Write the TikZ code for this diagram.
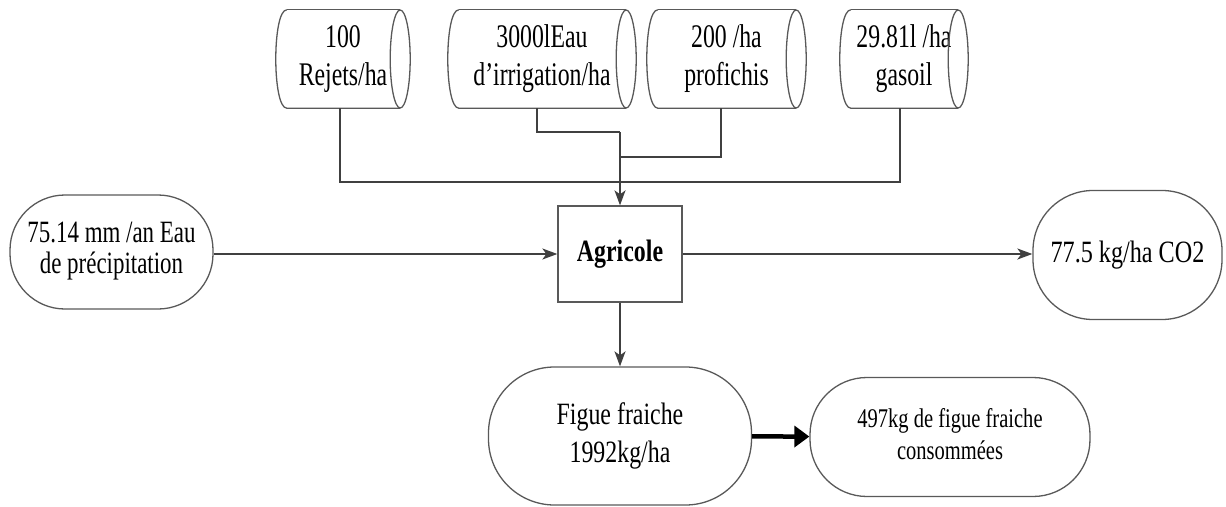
\documentclass[tikz,border=0pt]{standalone}
\usepackage{fontspec}
\setmainfont{Liberation Serif}
\usepackage{graphicx}
\usetikzlibrary{arrows.meta}

% narrow, centred multi-line label
\newcommand{\narrowlabel}[2]{\scalebox{#1}[1]{\begin{tabular}{@{}c@{}}#2\end{tabular}}}

% horizontal cylinder drawn around a (borderless) node
\newcommand{\cylinder}[1]{%
  \draw[outline] ([xshift=11pt]#1.north west)
    .. controls ([xshift=-3.7pt]#1.north west) and ([xshift=-3.7pt]#1.south west) .. ([xshift=11pt]#1.south west)
    -- ([xshift=-10pt]#1.south east);
  \draw[outline] ([xshift=11pt]#1.north west) -- ([xshift=-10pt]#1.north east);
  \draw[outline] ([xshift=-10pt]#1.east) ellipse [x radius=10pt, y radius=49pt];
}

\begin{document}
\begin{tikzpicture}[x=1pt,y=-1pt,
  outline/.style={draw=black!65, line width=1.3pt},
  supply/.style={minimum height=98pt, inner sep=0pt, font=\fontsize{33}{38}\selectfont},
  term/.style={outline, inner sep=0pt},
  process/.style={outline, inner sep=0pt, minimum width=124pt, minimum height=96pt,
    font=\fontsize{31}{36}\selectfont\bfseries},
  conn/.style={draw=black!75, line width=1.7pt},
  arr/.style={conn, -{Stealth[length=15pt,width=11pt,inset=4pt]}},
  bigarr/.style={draw=black, line width=4.5pt, -{Triangle[length=15pt,width=21pt]}}]

\useasboundingbox (0,0) rectangle (1226,506);

% inputs
\node[supply, minimum width=134pt] (b1) at (343,59) {\narrowlabel{0.72}{100\\Rejets/ha}};
\node[supply, minimum width=188pt] (b2) at (542,59) {\narrowlabel{0.72}{3000lEau\\d’irrigation/ha}};
\node[supply, minimum width=159pt] (b3) at (726.5,59) {\narrowlabel{0.72}{200 /ha\\profichis}};
\node[supply, minimum width=128pt] (b4) at (904,59) {\narrowlabel{0.72}{29.81l /ha\\gasoil}};
\cylinder{b1}
\cylinder{b2}
\cylinder{b3}
\cylinder{b4}

% central process
\node[process] (ag) at (620,254) {\scalebox{0.77}[1]{Agricole}};

% terminals
\node[term, rounded corners=55pt, minimum width=203pt, minimum height=114pt,
  font=\fontsize{31}{29}\selectfont] (rain) at (111.5,252)
  {\narrowlabel{0.74}{75.14 mm /an Eau\\de précipitation}};
\node[term, rounded corners=60pt, minimum width=189pt, minimum height=129pt,
  font=\fontsize{31}{36}\selectfont] (co2) at (1127.5,255)
  {\narrowlabel{0.78}{77.5 kg/ha CO2}};
\node[term, rounded corners=66pt, minimum width=263pt, minimum height=138pt,
  font=\fontsize{31}{38}\selectfont] (fig) at (620,436)
  {\narrowlabel{0.77}{Figue fraiche\\1992kg/ha}};
\node[term, rounded corners=57pt, minimum width=280pt, minimum height=119pt,
  font=\fontsize{27}{32}\selectfont] (eat) at (950,437)
  {\narrowlabel{0.76}{497kg de figue fraiche\\consommées}};

% collector lines
\coordinate (d1) at ([xshift=-3pt]b1.south);
\coordinate (d2) at ([xshift=-5pt]b2.south);
\coordinate (d3) at ([xshift=-5.5pt]b3.south);
\coordinate (d4) at ([xshift=-4pt]b4.south);
\coordinate (j1) at (620,132);
\coordinate (j2) at (620,157);

\draw[conn] (d2) |- (j1);
\draw[conn] (d3) |- (j2);
\draw[conn] (d1) |- (d4 |- 0,182) -- (d4);
\draw[arr] (j1) -- (ag.north);

% flows
\draw[arr] (rain.east |- ag.west) -- (ag.west);
\draw[arr] (ag.east) -- (co2.west |- ag.east);
\draw[arr] (ag) -- (fig);
\draw[bigarr] (fig) -- (eat);
\end{tikzpicture}
\end{document}
